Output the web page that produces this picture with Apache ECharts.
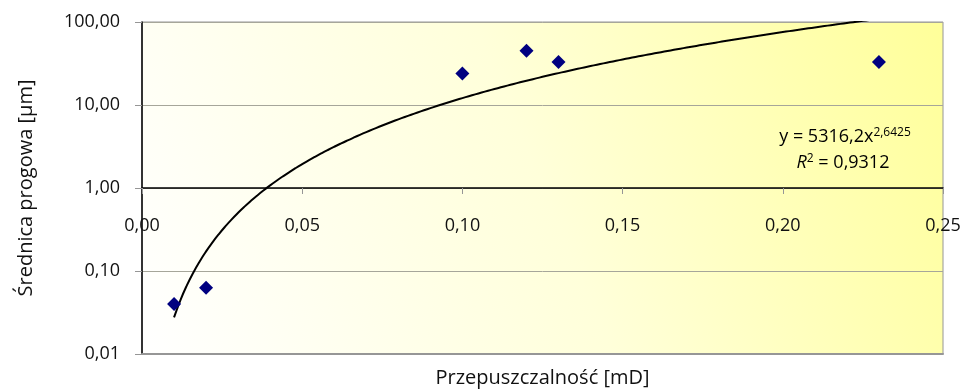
<!DOCTYPE html>
<html>
<head>
<meta charset="UTF-8">
<title>Średnica progowa</title>
<script src="https://cdn.jsdelivr.net/npm/echarts@6/dist/echarts.min.js"></script>
</head>
<body style="margin:0">
<div id="main" style="width:965px;height:390px;"></div>
<script>
// dane pomiarowe
var przepuszczalnosc = [0.01, 0.02, 0.10, 0.12, 0.13, 0.23];
var srednica = [0.04, 0.063, 24, 45, 33, 33];
var xTicks = [0, 0.05, 0.10, 0.15, 0.20, 0.25];
var yTicks = [0.01, 0.1, 1, 10, 100];

// linia trendu (potęgowa) z równania na wykresie
var trendA = 5316.2;
var trendB = 2.6425;
var trend = [];
for (var x = 0.01; x <= 0.2301; x += 0.002) {
	trend.push([x, trendA * Math.pow(x, trendB)]);
}

var pts = przepuszczalnosc.map(function (v, i) { return [v, srednica[i]]; });

function fmt(v) {
	return v.toFixed(2).replace('.', ',');
}

var font = 'Open Sans';
var txt = '#111';
var myChart = echarts.init(document.getElementById('main'));

myChart.setOption({
	animation: false,
	textStyle: { fontFamily: font },
	grid: {
		left: 142, right: 22, top: 22, bottom: 36,
		outerBoundsMode: 'none',
		show: true,
		borderColor: '#969696',
		backgroundColor: {
			type: 'linear', x: 0, y: 1, x2: 1, y2: 0,
			colorStops: [
				{ offset: 0, color: '#ffffff' },
				{ offset: 0.5, color: '#ffffda' },
				{ offset: 1, color: '#ffff99' }
			]
		}
	},
	xAxis: [{
		// dolna krawędź z nazwą osi
		type: 'value',
		min: xTicks[0], max: xTicks[xTicks.length - 1], interval: 0.05,
		name: 'Przepuszczalność [mD]',
		nameLocation: 'middle',
		nameGap: 14,
		nameTextStyle: { fontSize: 20, color: txt },
		axisLine: { onZero: false, lineStyle: { color: '#969696', width: 2 } },
		axisTick: { show: false },
		axisLabel: { show: false },
		splitLine: { show: false }
	}, {
		// oś X przecina oś Y w punkcie 1
		type: 'value',
		min: xTicks[0], max: xTicks[xTicks.length - 1], interval: 0.05,
		position: 'bottom',
		offset: -166,
		axisLine: { onZero: false, lineStyle: { color: '#000', width: 1.5 } },
		axisTick: { show: true, length: 6, lineStyle: { color: '#969696' } },
		axisLabel: { margin: 29, fontSize: 18, color: txt, formatter: fmt },
		splitLine: { show: false }
	}],
	yAxis: {
		type: 'log',
		logBase: 10,
		min: yTicks[0], max: yTicks[yTicks.length - 1],
		name: 'Średnica progowa [µm]',
		nameLocation: 'middle',
		nameGap: 106,
		nameTextStyle: { fontSize: 20, color: txt },
		axisLine: { show: true, lineStyle: { color: '#000', width: 1.5 } },
		axisTick: { show: true, length: 7, lineStyle: { color: '#969696' } },
		axisLabel: { margin: 22, fontSize: 18, color: txt, formatter: fmt },
		splitLine: { show: true, lineStyle: { color: '#a6a69a' } }
	},
	series: [{
		type: 'line',
		data: trend,
		showSymbol: false,
		smooth: true,
		clip: true,
		lineStyle: { color: '#000', width: 2 },
		z: 3
	}, {
		type: 'scatter',
		data: pts,
		symbol: 'diamond',
		symbolSize: 14,
		itemStyle: { color: '#000080', opacity: 1 },
		z: 4
	}],
	graphic: [{
		type: 'text',
		x: 845, y: 137,
		style: {
			text: '{n|y = 5316,2x}{s|2,6425}',
			textAlign: 'center', textVerticalAlign: 'middle',
			rich: {
				n: { fontSize: 18, fontFamily: font, color: txt },
				s: { fontSize: 12, fontFamily: font, color: txt, verticalAlign: 'top', padding: [0, 0, 8, 0] }
			}
		}
	}, {
		type: 'text',
		x: 843, y: 163,
		style: {
			text: '{i|R}{s|2}{n| = 0,9312}',
			textAlign: 'center', textVerticalAlign: 'middle',
			rich: {
				n: { fontSize: 18, fontFamily: font, color: txt },
				i: { fontSize: 18, fontFamily: font, color: txt, fontStyle: 'italic' },
				s: { fontSize: 12, fontFamily: font, color: txt, verticalAlign: 'top', padding: [0, 0, 8, 0] }
			}
		}
	}]
});
</script>
</body>
</html>
